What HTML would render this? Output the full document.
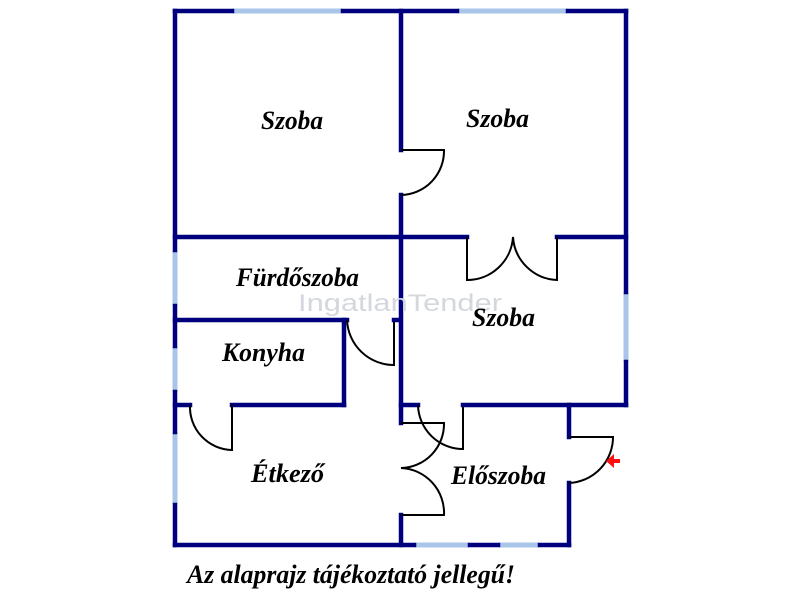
<!DOCTYPE html>
<html><head><meta charset="utf-8"><style>
html,body{margin:0;padding:0;background:#fff;}
svg{display:block;}
.t{font-family:"Liberation Serif",serif;font-style:italic;font-weight:bold;font-size:26px;fill:#000;}
</style></head><body>
<svg width="800" height="600" viewBox="0 0 800 600" xmlns="http://www.w3.org/2000/svg">
<g stroke="#a9c6ea" stroke-width="5" fill="none">
<line x1="232" y1="11" x2="343" y2="11"/>
<line x1="457" y1="11" x2="568" y2="11"/>
<line x1="175" y1="250" x2="175" y2="306"/>
<line x1="175" y1="346" x2="175" y2="392"/>
<line x1="175" y1="432" x2="175" y2="505"/>
<line x1="626" y1="292" x2="626" y2="362"/>
<line x1="414" y1="545" x2="470" y2="545"/>
<line x1="498" y1="545" x2="540" y2="545"/>
</g>
<g stroke="#00007f" stroke-width="4.5" fill="none" stroke-linecap="square">
<line x1="175" y1="11" x2="232" y2="11"/>
<line x1="343" y1="11" x2="457" y2="11"/>
<line x1="568" y1="11" x2="626" y2="11"/>
<line x1="175" y1="11" x2="175" y2="250"/>
<line x1="175" y1="306" x2="175" y2="346"/>
<line x1="175" y1="392" x2="175" y2="432"/>
<line x1="175" y1="505" x2="175" y2="545"/>
<line x1="626" y1="11" x2="626" y2="292"/>
<line x1="626" y1="362" x2="626" y2="405"/>
<line x1="175" y1="545" x2="414" y2="545"/>
<line x1="470" y1="545" x2="498" y2="545"/>
<line x1="540" y1="545" x2="569" y2="545"/>
<line x1="401" y1="11" x2="401" y2="150"/>
<line x1="401" y1="195" x2="401" y2="423"/>
<line x1="401" y1="515" x2="401" y2="545"/>
<line x1="175" y1="237" x2="467" y2="237"/>
<line x1="557" y1="237" x2="626" y2="237"/>
<line x1="175" y1="320" x2="347" y2="320"/>
<line x1="394" y1="320" x2="398" y2="320"/>
<line x1="344" y1="320" x2="344" y2="405"/>
<line x1="175" y1="405" x2="190" y2="405"/>
<line x1="232" y1="405" x2="344" y2="405"/>
<line x1="401" y1="405" x2="418" y2="405"/>
<line x1="463" y1="405" x2="626" y2="405"/>
<line x1="569" y1="405" x2="569" y2="437"/>
<line x1="569" y1="483" x2="569" y2="545"/>
</g>
<g stroke="#000" stroke-width="2" fill="none">
<path d="M401 150 H444 A44 44 0 0 1 401 195"/>
<path d="M467 237 V280 A46 46 0 0 0 513 237 A46 46 0 0 0 557 280 V237"/>
<path d="M347 320 A47 47 0 0 0 394 365 V322"/>
<path d="M190 405 A43 43 0 0 0 232 450 V405"/>
<path d="M463 407 V449 A45 45 0 0 1 418 405"/>
<path d="M401 423 H444 A44 44 0 0 1 401 468 A45 45 0 0 1 444 515 H401"/>
<path d="M569 437 H613 A46 46 0 0 1 569 483"/>
</g>
<path d="M606 461 L614 454 L614 459 L620 459 L620 463 L614 463 L614 468 Z" fill="#ff1010"/>
<text x="298" y="311" textLength="204" lengthAdjust="spacingAndGlyphs" font-family="'Liberation Sans',sans-serif" font-size="24" fill="#d4d8de">IngatlanTender</text>
<text class="t" x="261" y="129" textLength="62" lengthAdjust="spacingAndGlyphs">Szoba</text>
<text class="t" x="466" y="127" textLength="63" lengthAdjust="spacingAndGlyphs">Szoba</text>
<text class="t" x="472" y="326" textLength="63" lengthAdjust="spacingAndGlyphs">Szoba</text>
<text class="t" x="236" y="286" textLength="123" lengthAdjust="spacingAndGlyphs">Fürdőszoba</text>
<text class="t" x="222" y="361" textLength="83" lengthAdjust="spacingAndGlyphs">Konyha</text>
<text class="t" x="251" y="482" textLength="73" lengthAdjust="spacingAndGlyphs">Étkező</text>
<text class="t" x="451" y="484" textLength="95" lengthAdjust="spacingAndGlyphs">Előszoba</text>
<text class="t" x="187" y="583" textLength="328" lengthAdjust="spacingAndGlyphs">Az alaprajz tájékoztató jellegű!</text>
</svg>
</body></html>
